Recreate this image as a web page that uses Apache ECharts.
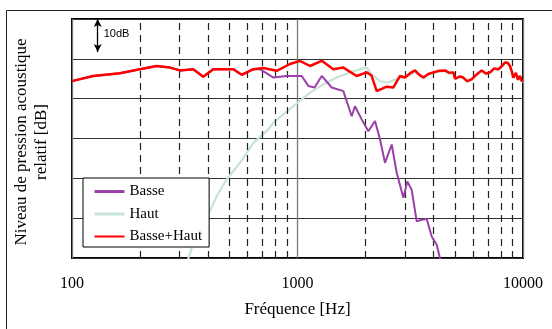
<!DOCTYPE html>
<html>
<head>
<meta charset="utf-8">
<script src="https://cdn.jsdelivr.net/npm/echarts@6/dist/echarts.min.js"></script>
<style>
  html, body { margin: 0; padding: 0; background: #fff; }
  #chart { width: 552px; height: 329px; }
</style>
</head>
<body>
<div id="chart"></div>
<script>
// Frequency response of a two-way loudspeaker: woofer, tweeter and their sum.
// Frequencies in Hz, levels in relative dB.

const sumFreq = [100, 124, 163, 200, 237, 272, 301, 345, 382, 423, 519, 566, 637, 705, 809, 926, 1026, 1136, 1281, 1442, 1597, 1830, 2027, 2130, 2245, 2486, 2659, 2848, 2998, 3160, 3320, 3450, 3614, 3800, 4002, 4250, 4510, 4700, 4908, 5000, 5082, 5250, 5437, 5650, 5924, 6200, 6561, 6850, 7141, 7450, 7774, 8000, 8324, 8550, 8759, 8900, 9058, 9300, 9500, 9698, 9850, 10000];
const sumLevel = [-5.6, -4.3, -3.6, -2.6, -1.8, -2.2, -2.9, -2.6, -4.5, -2.6, -2.6, -4.0, -2.6, -2.3, -3.0, -1.3, -0.5, -1.8, -0.5, -2.6, -2.2, -4.3, -3.4, -4.2, -8.1, -7.0, -7.2, -4.3, -4.7, -3.6, -2.9, -3.9, -4.7, -3.8, -3.4, -3.0, -2.9, -3.5, -3.4, -5.0, -5.3, -4.4, -4.7, -5.6, -5.1, -4.0, -2.9, -3.7, -3.4, -2.4, -2.6, -2.0, -0.9, -1.0, -1.8, -3.0, -4.7, -3.5, -5.2, -4.3, -5.5, -5.6];

const wooferFreq = [100, 124, 163, 200, 237, 272, 301, 345, 382, 423, 519, 566, 637, 682, 782, 893, 1044, 1117, 1190, 1281, 1418, 1597, 1739, 1799, 1926, 2061, 2207, 2322, 2443, 2617, 2754, 2947, 3069, 3209, 3378, 3554, 3741, 3937, 4143, 4285, 4400];
const wooferLevel = [-5.6, -4.3, -3.6, -2.6, -1.8, -2.2, -2.9, -2.6, -4.5, -2.6, -2.6, -4.0, -2.6, -2.6, -4.7, -4.3, -4.3, -6.8, -7.2, -4.3, -7.2, -8.1, -14.4, -11.9, -15.2, -18.2, -15.6, -20.2, -26.1, -21.5, -28.6, -34.9, -30.8, -32.9, -40.8, -40.4, -40.2, -44.6, -46.7, -50.1, -52];

const tweeterFreq = [320, 345, 396, 438, 485, 556, 637, 742, 781, 958, 1136, 1302, 1492, 1709, 1893, 2027, 2133, 2322, 2486, 2754, 2947, 3160, 3378, 3614, 3800, 4002, 4250, 4510, 4700, 4908, 5000, 5082, 5250, 5437, 5650, 5924, 6200, 6561, 6850, 7141, 7450, 7774, 8000, 8324, 8550, 8759, 8900, 9058, 9300, 9500, 9698, 9850, 10000];
const tweeterLevel = [-52, -46.3, -40.0, -34.5, -30.3, -26.1, -21.1, -17.7, -16.0, -11.9, -8.5, -6.4, -4.7, -3.4, -2.6, -2.2, -3.9, -5.6, -6.0, -5.1, -4.7, -3.9, -3.3, -4.9, -4.0, -3.6, -3.2, -3.1, -3.7, -3.6, -5.2, -5.5, -4.6, -4.9, -5.8, -5.3, -4.2, -3.1, -3.9, -3.6, -2.6, -2.8, -2.2, -1.1, -1.2, -2.0, -3.2, -4.9, -3.7, -5.4, -4.5, -5.7, -5.8];

// Dashed minor frequency grid
const minorFreq = [200, 300, 400, 500, 600, 700, 800, 900, 2000, 3000, 4000, 5000, 6000, 7000, 8000, 9000];
const xTicks = [100, 1000, 10000];

// 10 dB scale marker
const scaleFreq = 130;
const scaleTop = 10;
const scaleBottom = 1.7;
const scaleText = '10dB';

const zip = (xs, ys) => xs.map((x, i) => [x, ys[i]]);
const serif = 'Liberation Serif';

const chart = echarts.init(document.getElementById('chart'), null, { renderer: 'canvas' });

chart.setOption({
  animation: false,
  backgroundColor: '#fff',
  graphic: [{
    type: 'rect',
    left: 4, top: 8,
    shape: { width: 600, height: 400 },
    style: { fill: 'none', stroke: '#222', lineWidth: 1 },
    silent: true, z: -10
  }],
  grid: {
    left: 72, right: 29, top: 19, bottom: 71,
    show: true, borderColor: '#000', borderWidth: 2, backgroundColor: '#fff'
  },
  legend: {
    data: [
      { name: 'Basse', lineStyle: { width: 3 }, itemStyle: { opacity: 0 } },
      { name: 'Haut', lineStyle: { width: 3 }, itemStyle: { opacity: 0 } },
      { name: 'Basse+Haut', lineStyle: { width: 2 }, itemStyle: { opacity: 0 } }
    ],
    orient: 'vertical',
    left: 83, top: 178,
    padding: [6, 7, 3, 10],
    itemWidth: 30, itemHeight: 14, itemGap: 7.5,
    borderColor: '#000', borderWidth: 1,
    backgroundColor: '#fff',
    textStyle: { fontFamily: serif, fontSize: 15, color: '#000' },
    z: 20
  },
  xAxis: {
    type: 'log', logBase: 10, min: 100, max: 10000,
    axisLine: { show: false },
    axisTick: { show: false },
    axisLabel: {
      fontFamily: serif, fontSize: 16, color: '#000', margin: 18,
      formatter: v => (xTicks.includes(Math.round(v)) ? String(Math.round(v)) : '')
    },
    splitLine: { show: true, lineStyle: { color: '#777', width: 1.3 } },
    name: 'Fréquence [Hz]',
    nameLocation: 'middle', nameGap: 43,
    nameTextStyle: { fontFamily: serif, fontSize: 17, color: '#000' }
  },
  yAxis: {
    type: 'value', min: -50, max: 10, interval: 10,
    axisLine: { show: false },
    axisTick: { show: false },
    axisLabel: { show: false },
    splitLine: { show: true, lineStyle: { color: '#333', width: 1.2 } },
    name: 'Niveau de pression acoustique\nrelatif [dB]',
    nameLocation: 'middle', nameRotate: 90, nameGap: 20,
    nameTextStyle: {
      fontFamily: serif, fontSize: 17, color: '#000', lineHeight: 20, align: 'center',
      padding: [0, 7, 0, 0]
    }
  },
  series: [
    {
      name: 'minor-grid', type: 'line', data: [], silent: true, z: 1,
      markLine: {
        silent: true, symbol: ['none', 'none'], animation: false,
        label: { show: false },
        lineStyle: { type: [7, 5], color: '#222', width: 1.2 },
        data: minorFreq.map(f => ({ xAxis: f }))
      }
    },
    {
      name: 'scale', type: 'line', data: [], silent: true, z: 3,
      markLine: {
        silent: true, symbol: ['arrow', 'arrow'], symbolSize: [6, 8], animation: false,
        label: { show: false },
        lineStyle: { type: 'solid', color: '#000', width: 1.3 },
        data: [[{ coord: [scaleFreq, scaleTop] }, { coord: [scaleFreq, scaleBottom] }]]
      },
      markPoint: {
        silent: true, symbol: 'circle', symbolSize: 0, animation: false,
        label: {
          show: true, position: 'right', distance: 6, formatter: scaleText,
          fontFamily: 'Liberation Sans', fontSize: 11, color: '#000'
        },
        data: [{ coord: [scaleFreq, (scaleTop + scaleBottom) / 2 + 0.5] }]
      }
    },
    {
      name: 'Haut', type: 'line', data: zip(tweeterFreq, tweeterLevel),
      symbol: 'none', z: 4,
      lineStyle: { color: '#c6e4d6', width: 2.2 }, itemStyle: { color: '#c6e4d6' }
    },
    {
      name: 'Basse', type: 'line', data: zip(wooferFreq, wooferLevel),
      symbol: 'none', z: 5,
      lineStyle: { color: '#9b3fa9', width: 2 }, itemStyle: { color: '#9b3fa9' }
    },
    {
      name: 'Basse+Haut', type: 'line', data: zip(sumFreq, sumLevel),
      symbol: 'none', z: 6,
      lineStyle: { color: '#ff0000', width: 2.5 }, itemStyle: { color: '#ff0000' }
    }
  ]
});
</script>
</body>
</html>
